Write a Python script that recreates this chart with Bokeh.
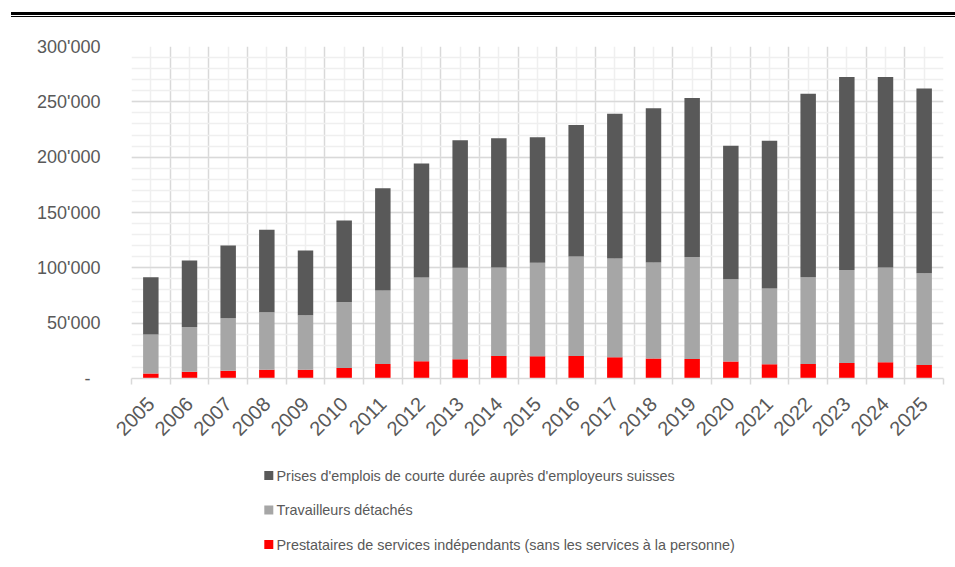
import math
from bokeh.plotting import figure
from bokeh.models import (ColumnDataSource, FixedTicker, CustomJSTickFormatter,
                          Range1d, Div)
from bokeh.core.properties import value
from bokeh.layouts import column
from bokeh.embed import file_html
from bokeh.resources import INLINE

years = [2005, 2006, 2007, 2008, 2009, 2010, 2011, 2012, 2013, 2014, 2015,
         2016, 2017, 2018, 2019, 2020, 2021, 2022, 2023, 2024, 2025]
prestataires = [4500, 6000, 6900, 7800, 7800, 9600, 13200, 15600, 17400, 20400, 20100,
                20400, 19200, 18000, 17600, 15300, 12900, 13200, 14100, 14700, 12300]
detaches = [35200, 40500, 47500, 52000, 49300, 59500, 66400, 75700, 82700, 80000, 84500,
            89900, 89300, 86900, 92200, 74300, 68500, 78200, 83900, 85700, 82900]
emplois = [51900, 60200, 65800, 74600, 58600, 73700, 92300, 102900, 115100, 116600, 113300,
           118800, 130800, 139200, 143600, 120800, 133500, 165900, 174400, 172000, 166900]

series_keys = ["emplois", "detaches", "prestataires"]
labels = ["Prises d'emplois de courte durée auprès d'employeurs suisses",
          "Travailleurs détachés",
          "Prestataires de services indépendants (sans les services à la personne)"]
colors = ["#595959", "#a6a6a6", "#ff0000"]

y_ticks = list(range(0, 300001, 50000))
y_minor = list(range(0, 300001, 10000))

FONT = "Liberation Sans"
TXT = "#595959"
W = 955
BL, BR = 131, 12

source = ColumnDataSource(dict(year=years, prestataires=prestataires,
                               detaches=detaches, emplois=emplois))

p = figure(width=W, height=431, output_backend="svg", toolbar_location=None,
           x_range=Range1d(years[0] - 0.5, years[-1] + 0.5),
           y_range=Range1d(0, 300000),
           min_border_left=BL, min_border_right=BR, min_border_top=29,
           min_border_bottom=70)
p.outline_line_color = None
p.background_fill_color = "white"
p.border_fill_color = "white"

p.vbar_stack(series_keys[::-1], x="year", width=0.4, source=source,
             color=colors[::-1], line_color=None)

bounds = [y - 0.5 for y in years] + [years[-1] + 0.5]

# x axis
p.xaxis.ticker = FixedTicker(ticks=years, minor_ticks=bounds)
p.xaxis.major_tick_line_color = None
p.xaxis.major_tick_out = 0
p.xaxis.minor_tick_line_color = "#d9d9d9"
p.xaxis.minor_tick_line_width = 1.5
p.xaxis.minor_tick_in = 0
p.xaxis.minor_tick_out = 6
p.xaxis.axis_line_color = "#d9d9d9"
p.xaxis.axis_line_width = 1.5
p.xaxis.major_label_orientation = math.pi / 4
p.xaxis.major_label_text_font = FONT
p.xaxis.major_label_text_font_size = "20px"
p.xaxis.major_label_text_color = TXT
p.xaxis.major_label_standoff = 16

# y axis
p.yaxis.ticker = FixedTicker(ticks=y_ticks, minor_ticks=y_minor)
p.yaxis.formatter = CustomJSTickFormatter(code="""
if (tick == 0) { return "-\u00a0\u00a0"; }
return Math.round(tick).toString().replace(/\\B(?=(\\d{3})+(?!\\d))/g, "'");
""")
p.yaxis.axis_line_color = None
p.yaxis.major_tick_line_color = None
p.yaxis.minor_tick_line_color = None
p.yaxis.major_label_text_font = FONT
p.yaxis.major_label_text_font_size = "18px"
p.yaxis.major_label_text_color = TXT
p.yaxis.major_label_standoff = 25

# grids
p.xgrid.ticker = FixedTicker(ticks=bounds, minor_ticks=years)
p.xgrid.grid_line_color = "#d9d9d9"
p.xgrid.grid_line_width = 1.5
p.xgrid.minor_grid_line_color = "#efefef"
p.xgrid.minor_grid_line_width = 1.5
p.ygrid.grid_line_color = "#d9d9d9"
p.ygrid.grid_line_width = 1.5
p.ygrid.minor_grid_line_color = "#efefef"
p.ygrid.minor_grid_line_width = 1.5

# legend drawn in its own strip below the chart; frame aligned with the main
# chart's frame, so x range is set in page pixels
LEG_H = 119
lg = figure(width=W, height=LEG_H, output_backend="svg", toolbar_location=None,
            x_range=Range1d(BL, W - BR), y_range=Range1d(LEG_H, 0),
            x_axis_location=None, y_axis_location=None,
            min_border_left=BL, min_border_right=BR, min_border_top=0,
            min_border_bottom=0)
lg.grid.visible = False
lg.outline_line_color = None
lg.background_fill_color = "white"
lg.border_fill_color = "white"
row_y = [27 + 34.5 * i for i in range(len(labels))]
leg_src = ColumnDataSource(dict(y=row_y, label=labels, color=colors))
lg.scatter(x=268.3, y="y", marker="square", size=9, fill_color="color",
           line_color=None, source=leg_src)
lg.text(x=276, y="y", text="label", source=leg_src, text_font=value(FONT),
        text_font_size="14.4px", text_color=TXT, text_baseline="middle",
        text_align="left")

top = Div(text="", width=944, height=5, margin=(12, 0, 0, 11),
          styles={"border-top": "3px solid #000", "border-bottom": "1px solid #000",
                  "box-sizing": "border-box"})

layout = column(top, p, lg, spacing=0)
open("out.html", "w").write(file_html(layout, INLINE))
